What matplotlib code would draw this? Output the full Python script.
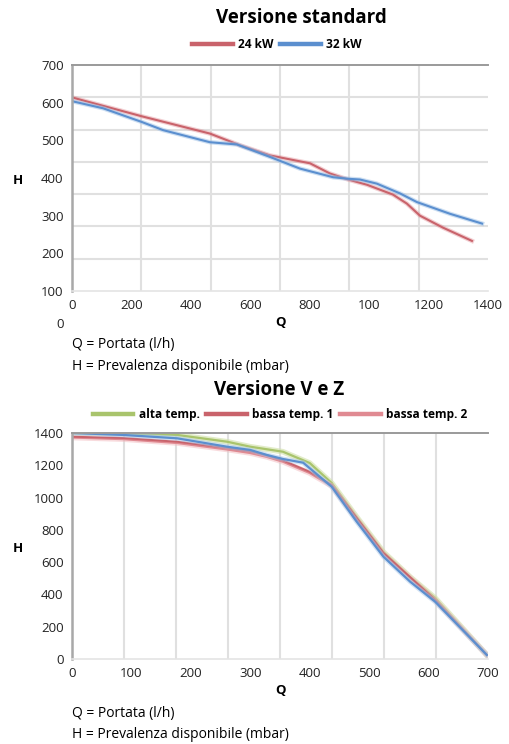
import numpy as np
import matplotlib
matplotlib.use("Agg")
import matplotlib.pyplot as plt
import matplotlib.patheffects as pe
from matplotlib.ticker import FixedLocator

plt.rcParams['font.family'] = ['Open Sans', 'DejaVu Sans']

# ---- Versione standard ----
std_series = ["24 kW", "32 kW"]
q_24 = [0, 234, 464, 565, 666, 801, 868, 929, 993, 1080, 1127, 1171, 1249, 1346]
h_24 = [614, 564, 518, 487, 460, 439, 412, 396, 382, 356, 332, 300, 268, 233]
q_32 = [0, 105, 234, 307, 464, 555, 666, 767, 879, 929, 969, 1026, 1104, 1161, 1272, 1380]
h_32 = [604, 585, 549, 527, 495, 489, 456, 425, 402, 398, 396, 385, 359, 336, 305, 279]
std_xticks = [0, 200, 400, 600, 800, 1000, 1200, 1400]
std_xlabels = ["0", "200", "400", "600", "800", "100", "1200", "1400"]
std_yticks = [100, 200, 300, 400, 500, 600, 700]

# ---- Versione V e Z ----
vz_series = ["alta temp.", "bassa temp. 1", "bassa temp. 2"]
q_alta = [0, 86, 177, 261, 300, 355, 400, 437, 479, 524, 569, 611, 698]
h_alta = [1400, 1398, 1388, 1346, 1315, 1284, 1214, 1090, 880, 663, 508, 378, 25]
q_b1 = [0, 86, 177, 261, 300, 328, 355, 400, 437, 479, 524, 611, 698]
h_b1 = [1377, 1369, 1346, 1307, 1286, 1262, 1230, 1160, 1078, 873, 657, 366, 25]
q_b2 = [0, 86, 177, 261, 300, 328, 355, 400, 437, 479, 524, 611, 698]
h_b2 = [1372, 1362, 1338, 1298, 1276, 1252, 1222, 1152, 1072, 868, 652, 364, 25]
q_blue = [0, 86, 177, 261, 300, 328, 355, 389, 437, 479, 524, 569, 611, 698]
h_blue = [1400, 1388, 1367, 1315, 1295, 1264, 1239, 1216, 1067, 851, 634, 479, 355, 25]
vz_xticks = [0, 100, 200, 300, 400, 500, 600, 700]
vz_yticks = [0, 200, 400, 600, 800, 1000, 1200, 1400]

RED = "#c9636b"
PINK = "#e08a92"
BLUE = "#5b8fcf"
GREEN = "#a9c46c"
GRID = "#e0e0e0"
TICK = "#222222"

W, H = 509, 744
fig = plt.figure(figsize=(W / 100, H / 100), dpi=100)


def fx(px):
    return px / W


def fy(py):
    return 1 - py / H


def glow(color, w=4.5, a=0.35):
    return [pe.Stroke(linewidth=w, foreground=color, alpha=a), pe.Normal()]


def style_axes(ax, xlim, ylim, xticks, xlabels, yticks, xgrid, ygrid):
    ax.set_xlim(*xlim)
    ax.set_ylim(*ylim)
    ax.set_xticks(xticks)
    ax.set_xticklabels(xlabels)
    ax.set_yticks(yticks)
    ax.xaxis.set_minor_locator(FixedLocator(xgrid))
    ax.yaxis.set_minor_locator(FixedLocator(ygrid))
    ax.grid(False, which="major")
    ax.grid(True, which="minor", color=GRID, linewidth=1.5)
    ax.tick_params(which="both", length=0)
    ax.tick_params(which="major", labelsize=9.5, labelcolor=TICK, pad=6)
    ax.spines["right"].set_visible(False)
    ax.spines["left"].set_color("#a8a8a8")
    ax.spines["left"].set_linewidth(1.8)
    ax.spines["top"].set_color("#9a9a9a")
    ax.spines["top"].set_linewidth(1.4)
    ax.spines["bottom"].set_color("#e4e4e4")
    ax.spines["bottom"].set_linewidth(1.2)
    ax.set_axisbelow(True)


def bold_legend(handles, center, ncol):
    leg = fig.legend(handles=handles, loc="center", bbox_to_anchor=center,
                     ncol=ncol, frameon=False, fontsize=8.6, handlelength=3.4,
                     handletextpad=0.45, columnspacing=0.55, borderaxespad=0)
    for t in leg.get_texts():
        t.set_fontweight("bold")
    for lh in leg.get_lines():
        lh.set_linewidth(3.2)
        lh.set_path_effects([])
    return leg


# Top chart
ax1 = fig.add_axes([fx(72), fy(291), fx(488 - 72), (291 - 65) / H])
style_axes(ax1, (0, 1400), (100, 700), std_xticks, std_xlabels, std_yticks,
           np.linspace(0, 1400, 7)[1:-1], np.linspace(100, 700, 8)[1:-1])
l24, = ax1.plot(q_24, h_24, color=RED, lw=1.5, label=std_series[0],
                path_effects=glow(PINK, 3.2, 0.4))
l32, = ax1.plot(q_32, h_32, color=BLUE, lw=1.5, label=std_series[1],
                path_effects=glow("#9dc0e6", 3.2, 0.5))
fig.text(fx(301), fy(18), "Versione standard", ha="center", va="center",
         fontsize=13.5, fontweight="bold")
bold_legend([l24, l32], (fx(277), fy(45)), 2)
fig.text(fx(18), fy(181), "H", ha="center", va="center", fontsize=9.5, fontweight="bold")
fig.text(fx(280), fy(322), "Q", ha="center", va="center", fontsize=9.5, fontweight="bold")
fig.text(fx(60), fy(325), "0", ha="center", va="center", fontsize=9.5, color=TICK)
fig.text(fx(72), fy(345), "Q = Portata (l/h)", ha="left", va="center", fontsize=10)
fig.text(fx(72), fy(366), "H = Prevalenza disponibile (mbar)", ha="left", va="center",
         fontsize=10)

# Bottom chart
ax2 = fig.add_axes([fx(72), fy(659), fx(488 - 72), (659 - 433) / H])
style_axes(ax2, (0, 700), (0, 1400), vz_xticks, [str(v) for v in vz_xticks], vz_yticks,
           np.linspace(0, 700, 9)[1:-1], np.array(vz_yticks[1:-1]))
la, = ax2.plot(q_alta, h_alta, color=GREEN, lw=1.6, label=vz_series[0],
               path_effects=glow("#cfe0a6", 4, 0.6))
lb2, = ax2.plot(q_b2, h_b2, color=PINK, lw=1.6, label=vz_series[2],
                path_effects=glow("#f2b8bd", 4, 0.5))
lb1, = ax2.plot(q_b1, h_b1, color=RED, lw=1.4, label=vz_series[1])
lbl, = ax2.plot(q_blue, h_blue, color=BLUE, lw=1.6, label="_nolegend_",
                path_effects=glow("#a9c8ea", 3.5, 0.5))
fig.text(fx(279), fy(390), "Versione V e Z", ha="center", va="center",
         fontsize=13.5, fontweight="bold")
bold_legend([la, lb1, lb2], (fx(280), fy(415)), 3)
fig.text(fx(18), fy(549), "H", ha="center", va="center", fontsize=9.5, fontweight="bold")
fig.text(fx(280), fy(690), "Q", ha="center", va="center", fontsize=9.5, fontweight="bold")
fig.text(fx(72), fy(713), "Q = Portata (l/h)", ha="left", va="center", fontsize=10)
fig.text(fx(72), fy(735), "H = Prevalenza disponibile (mbar)", ha="left", va="center",
         fontsize=10)

fig.savefig("out.png", dpi=100, facecolor="white")
